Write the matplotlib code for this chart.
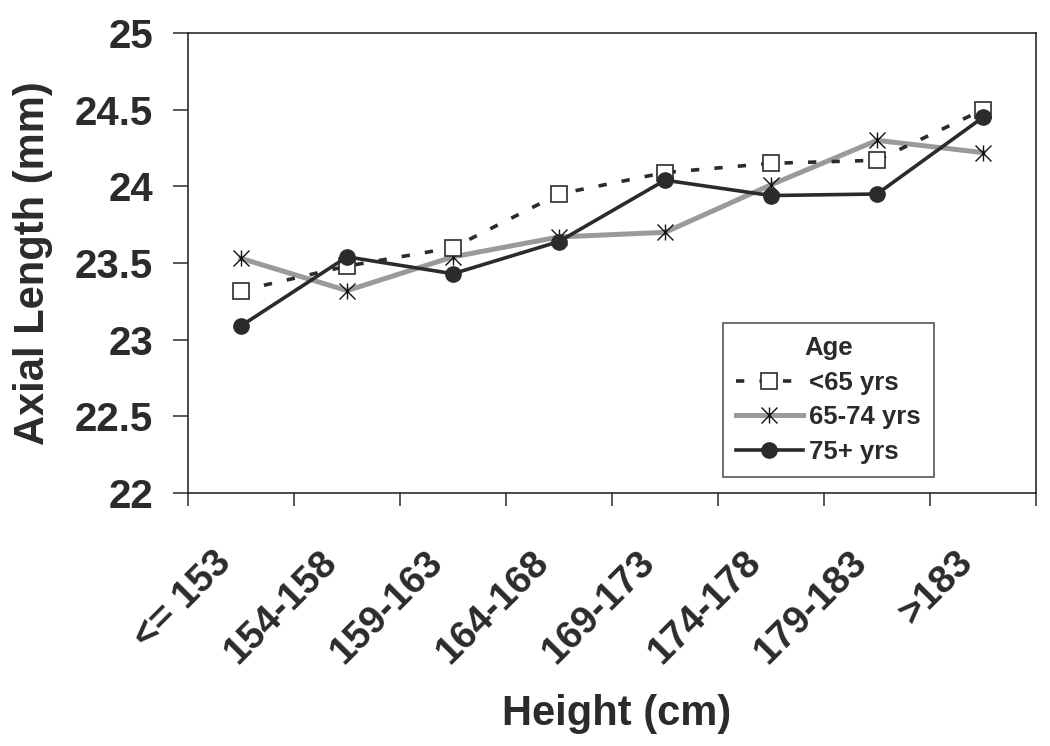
"""Axial length by height category, split by age group."""

import matplotlib

matplotlib.use("Agg")

import matplotlib.pyplot as plt
from matplotlib.path import Path
from matplotlib.ticker import FixedLocator, NullFormatter
from matplotlib.transforms import ScaledTranslation

# -- data -------------------------------------------------------------------
HEIGHT_BINS = ["<= 153", "154-158", "159-163", "164-168",
               "169-173", "174-178", "179-183", ">183"]
UNDER_65 = [23.32, 23.48, 23.60, 23.95, 24.09, 24.15, 24.17, 24.50]
AGE_65_74 = [23.53, 23.32, 23.54, 23.67, 23.70, 24.01, 24.30, 24.22]
AGE_75_PLUS = [23.09, 23.54, 23.43, 23.64, 24.04, 23.94, 23.95, 24.45]
Y_TICKS = [22, 22.5, 23, 23.5, 24, 24.5, 25]
Y_TICK_LABELS = ["22", "22.5", "23", "23.5", "24", "24.5", "25"]

# -- style ------------------------------------------------------------------
INK = "#2b2b2b"
GREY = "#9a9a9a"
FONT = "Liberation Sans"

# Excel-style star: an X with a vertical bar through it
STAR = Path(
    [(0, -1), (0, 1), (-1, -1), (1, 1), (-1, 1), (1, -1)],
    [Path.MOVETO, Path.LINETO, Path.MOVETO, Path.LINETO, Path.MOVETO, Path.LINETO],
)

plt.rcParams["font.family"] = FONT
plt.rcParams["font.weight"] = "bold"

fig = plt.figure(figsize=(10.5, 7.46), dpi=100, facecolor="white")
ax = fig.add_axes([188 / 1050, 1 - 493 / 746, 848 / 1050, 460 / 746])

x = list(range(len(HEIGHT_BINS)))

ax.plot(x, UNDER_65, color=INK, lw=2.6, linestyle=(0, (2.3, 4.2)),
        marker="s", ms=11, mfc="white", mec=INK, mew=1.2,
        label="<65 yrs", zorder=3)
ax.plot(x, AGE_65_74, color=GREY, lw=3.6,
        marker=STAR, ms=11.5, mec="#111111", mew=1.0,
        label="65-74 yrs", zorder=2)
ax.plot(x, AGE_75_PLUS, color=INK, lw=2.6,
        marker="o", ms=11, mfc=INK, mec=INK,
        label="75+ yrs", zorder=4)

ax.set_xlim(-0.5, len(HEIGHT_BINS) - 0.5)
ax.set_ylim(22, 25)

# ticks sit between categories, labels at the centres
ax.xaxis.set_major_locator(FixedLocator([i - 0.5 for i in range(len(HEIGHT_BINS) + 1)]))
ax.xaxis.set_major_formatter(NullFormatter())
ax.set_xticks(x, HEIGHT_BINS, minor=True)
ax.tick_params(axis="x", which="major", direction="out", length=9, width=1.1, color=INK)
ax.tick_params(axis="x", which="minor", length=0, pad=37, labelsize=28, labelcolor=INK)
shift = ScaledTranslation(-28 / 100, 0, fig.dpi_scale_trans)
for label in ax.get_xticklabels(minor=True):
    label.set_rotation(45)
    label.set_ha("right")
    label.set_va("top")
    label.set_rotation_mode("anchor")
    label.set_fontweight("bold")
    label.set_transform(label.get_transform() + shift)

ax.set_yticks(Y_TICKS, Y_TICK_LABELS)
ax.tick_params(axis="y", direction="out", length=11, width=1.1, color=INK,
               pad=14, labelsize=29, labelcolor=INK)
for label in ax.get_yticklabels():
    label.set_fontweight("bold")

for spine in ax.spines.values():
    spine.set_color(INK)
    spine.set_linewidth(1.2)

fig.text(33 / 1050, 1 - 263 / 746, "Axial Length (mm)", rotation=90,
         ha="center", va="center", fontsize=30, fontweight="bold", color=INK)
fig.text(617 / 1050, 1 - 714 / 746, "Height (cm)",
         ha="center", va="center", fontsize=30, fontweight="bold", color=INK)

legend = ax.legend(
    loc="upper left",
    bbox_to_anchor=(723 / 1050, 1 - 323 / 746),
    bbox_transform=fig.transFigure,
    borderaxespad=0,
    title="Age",
    prop={"family": FONT, "weight": "bold", "size": 18.5},
    title_fontproperties={"family": FONT, "weight": "bold", "size": 18.5},
    frameon=True,
    fancybox=False,
    edgecolor=INK,
    handlelength=2.6,
    handletextpad=0.25,
    labelspacing=0.42,
    borderpad=0.5,
    labelcolor=INK,
)
legend.get_frame().set_linewidth(1.2)
legend.get_title().set_color(INK)

fig.savefig("out.png", dpi=100, facecolor="white")
